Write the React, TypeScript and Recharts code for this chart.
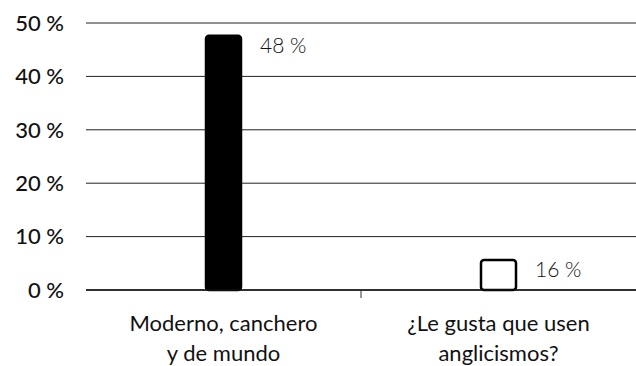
import React from "react";
import { BarChart, Bar, XAxis, YAxis, CartesianGrid, LabelList, Cell } from "recharts";

const categories = ["Moderno, canchero|y de mundo", "¿Le gusta que usen|anglicismos?"];
const values = [47.6, 5.6];
const valueLabels = ["48 %", "16 %"];
const fills = ["#000000", "#ffffff"];
const yTicks = [0, 10, 20, 30, 40, 50];

const data = categories.map((c, i) => ({ name: c, value: values[i], label: valueLabels[i] }));

const FONT = "Lato, 'Open Sans', sans-serif";

const XTick = (props: any) => {
  const { x, y, payload, index } = props;
  const lines = String(payload.value).split("|");
  return (
    <g>
      {index === 0 && (
        <line x1={x + 137.5} x2={x + 137.5} y1={y - 8} y2={y} stroke="#333" strokeWidth={1} />
      )}
      {lines.map((l, i) => (
        <text
          key={i}
          x={x}
          y={y + 27 + i * 30}
          textAnchor="middle"
          dominantBaseline="middle"
          fontFamily={FONT}
          fontSize={22}
          fill="#111"
        >
          {l}
        </text>
      ))}
    </g>
  );
};

const ValueLabel = (props: any) => {
  const { x, y, width, value } = props;
  return (
    <text
      x={x + width + 19}
      y={y + 12}
      dominantBaseline="middle"
      fontFamily={FONT}
      fontSize={21}
      fontWeight={300}
      fill="#111"
    >
      {value}
    </text>
  );
};

export default function App() {
  return (
    <div style={{ position: "absolute", left: 0, top: 0, background: "#fff" }}>
      <BarChart width={636} height={366} data={data} margin={{ top: 23, right: 0, left: 0, bottom: 46 }}>
        <CartesianGrid vertical={false} stroke="#222" strokeWidth={1} />
        <XAxis
          dataKey="name"
          axisLine={{ stroke: "#111", strokeWidth: 1.5 }}
          tickLine={false}
          tick={<XTick />}
          interval={0}
        />
        <YAxis
          width={86}
          domain={[0, 50]}
          ticks={yTicks}
          axisLine={false}
          tickLine={false}
          tickMargin={16}
          tickFormatter={(v: number) => `${v} %`}
          tick={{ fontFamily: FONT, fontSize: 22, fill: "#111", fontWeight: 500 }}
        />
        <Bar dataKey="value" barSize={35} radius={3} stroke="#000" strokeWidth={2.5} isAnimationActive={false}>
          {data.map((d, i) => (
            <Cell key={i} fill={fills[i]} />
          ))}
          <LabelList dataKey="label" content={<ValueLabel />} />
        </Bar>
      </BarChart>
    </div>
  );
}
